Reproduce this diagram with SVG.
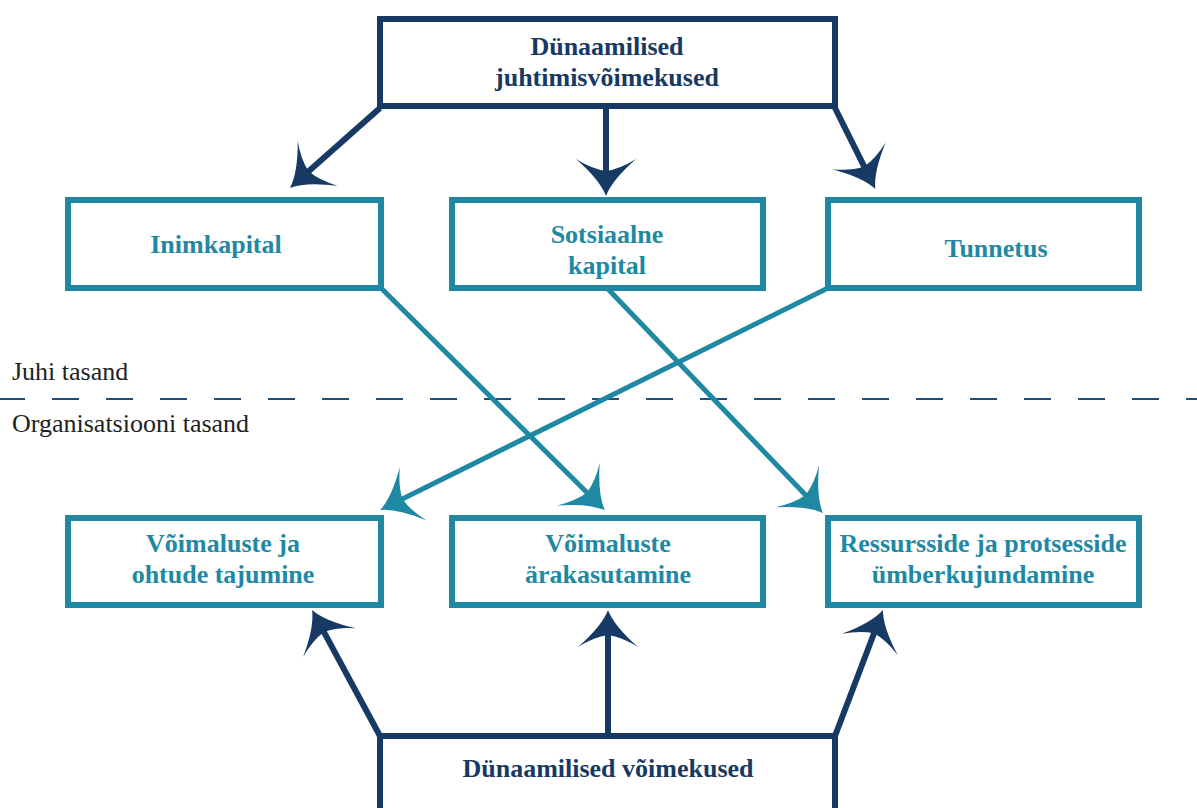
<svg xmlns="http://www.w3.org/2000/svg" width="1197" height="808" viewBox="0 0 1197 808">
<style>
.navy{fill:#fff;stroke:#173a64;stroke-width:6}
.teal{fill:#fff;stroke:#1f88a3;stroke-width:6}
.tn{font-family:"Liberation Serif","Times New Roman",serif;font-weight:bold;font-size:26px;fill:#173a64;text-anchor:middle}
.tt{font-family:"Liberation Serif","Times New Roman",serif;font-weight:bold;font-size:26px;fill:#1f88a3;text-anchor:middle}
.lbl{font-family:"Liberation Serif","Times New Roman",serif;font-size:26px;fill:#222}
.cn{fill:none;stroke:#173a64;stroke-width:6}
.ct{fill:none;stroke:#1f88a3;stroke-width:5}
</style>
<defs>
<marker id="an" viewBox="-40 -35 45 70" markerUnits="userSpaceOnUse" markerWidth="45" markerHeight="70" refX="-22" refY="0" orient="auto">
<path d="M0,0 Q-16,-6 -37,-30 Q-27,-14 -25,0 Q-27,14 -37,30 Q-16,6 0,0 Z" fill="#173a64"/>
</marker>
<marker id="at" viewBox="-40 -35 45 70" markerUnits="userSpaceOnUse" markerWidth="45" markerHeight="70" refX="-22" refY="0" orient="auto">
<path d="M0,0 Q-16,-6 -37,-30 Q-27,-14 -25,0 Q-27,14 -37,30 Q-16,6 0,0 Z" fill="#1f88a3"/>
</marker>
</defs>
<rect width="1197" height="808" fill="#fff"/>
<line x1="0" y1="399" x2="1197" y2="399" stroke="#1f4e79" stroke-width="2" stroke-dasharray="27 27" stroke-dashoffset="2"/>
<text class="lbl" x="12" y="380">Juhi tasand</text>
<text class="lbl" x="12" y="432">Organisatsiooni tasand</text>
<g id="connectors">
<line class="cn" x1="380" y1="108" x2="306.4" y2="173.3" marker-end="url(#an)"/>
<line class="cn" x1="606" y1="108" x2="606" y2="174" marker-end="url(#an)"/>
<line class="cn" x1="835" y1="108" x2="865.5" y2="169.2" marker-end="url(#an)"/>
<line class="ct" x1="381" y1="288" x2="589.2" y2="494.7" marker-end="url(#at)"/>
<line class="ct" x1="607" y1="288" x2="807.7" y2="497.2" marker-end="url(#at)"/>
<line class="ct" x1="828" y1="288" x2="399.8" y2="500.3" marker-end="url(#at)"/>
<line class="cn" x1="380" y1="736" x2="322.5" y2="629.3" marker-end="url(#an)"/>
<line class="cn" x1="608" y1="736" x2="608" y2="632" marker-end="url(#an)"/>
<line class="cn" x1="835" y1="736" x2="875.1" y2="630.5" marker-end="url(#an)"/>
</g>
<g id="top">
<rect class="navy" x="380" y="19" width="455" height="87"/>
<text class="tn" x="607" y="55">Dünaamilised</text>
<text class="tn" x="607" y="86">juhtimisvõimekused</text>
</g>
<g id="inimkapital">
<rect class="teal" x="68" y="200" width="313" height="88"/>
<text class="tt" x="216" y="253">Inimkapital</text>
</g>
<g id="sotsiaalne">
<rect class="teal" x="452" y="200" width="311" height="88"/>
<text class="tt" x="607" y="243">Sotsiaalne</text>
<text class="tt" x="607" y="274">kapital</text>
</g>
<g id="tunnetus">
<rect class="teal" x="828" y="200" width="311" height="88"/>
<text class="tt" x="996" y="257">Tunnetus</text>
</g>
<g id="tajumine">
<rect class="teal" x="68" y="518" width="313" height="87"/>
<text class="tt" x="223" y="552">Võimaluste ja</text>
<text class="tt" x="223" y="583">ohtude tajumine</text>
</g>
<g id="arakasutamine">
<rect class="teal" x="452" y="518" width="311" height="87"/>
<text class="tt" x="608" y="552">Võimaluste</text>
<text class="tt" x="608" y="583">ärakasutamine</text>
</g>
<g id="ressursid">
<rect class="teal" x="828" y="518" width="311" height="87"/>
<text class="tt" x="983" y="552">Ressursside ja protsesside</text>
<text class="tt" x="983" y="583">ümberkujundamine</text>
</g>
<g id="bottom">
<rect class="navy" x="380" y="736" width="455" height="80"/>
<text class="tn" x="608" y="777">Dünaamilised võimekused</text>
</g>
</svg>
